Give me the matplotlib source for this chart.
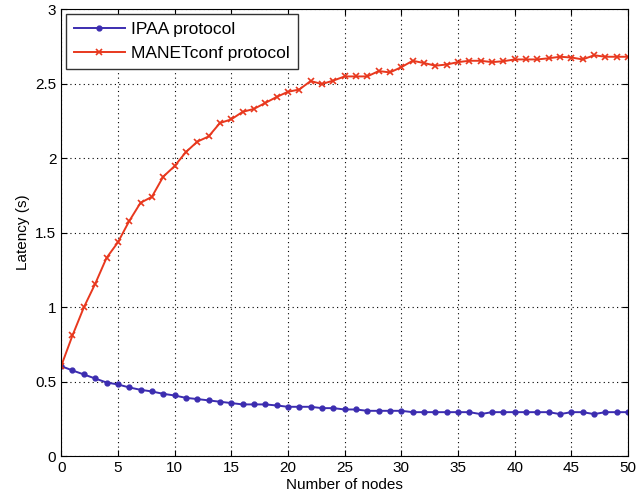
import numpy as np
import matplotlib.pyplot as plt

plt.rcParams['font.family'] = ['Liberation Sans', 'DejaVu Sans']

nodes = list(range(51))

ipaa = [0.604, 0.575, 0.548, 0.521, 0.494, 0.481, 0.461, 0.445, 0.434, 0.418,
        0.407, 0.391, 0.383, 0.374, 0.365, 0.356, 0.347, 0.347, 0.347, 0.340,
        0.331, 0.331, 0.331, 0.322, 0.322, 0.313, 0.313, 0.304, 0.304, 0.304,
        0.304, 0.295, 0.295, 0.295, 0.295, 0.295, 0.295, 0.282, 0.295, 0.295,
        0.295, 0.295, 0.295, 0.295, 0.282, 0.295, 0.295, 0.282, 0.295, 0.295,
        0.295]

manetconf = [0.604, 0.81, 0.998, 1.156, 1.33, 1.434, 1.577, 1.70, 1.74, 1.875,
             1.946, 2.04, 2.11, 2.145, 2.235, 2.26, 2.31, 2.33, 2.37, 2.41,
             2.445, 2.46, 2.517, 2.497, 2.52, 2.548, 2.548, 2.548, 2.584, 2.575,
             2.61, 2.653, 2.638, 2.62, 2.628, 2.644, 2.653, 2.653, 2.644, 2.65,
             2.662, 2.662, 2.662, 2.67, 2.68, 2.675, 2.662, 2.69, 2.68, 2.68,
             2.68]

fig = plt.figure(figsize=(6.37, 5.04), dpi=100)
ax = fig.add_axes([0.096, 0.095, 0.89, 0.887])

ax.plot(nodes, ipaa, color='#3c2db0', marker='o', markersize=3.5, linewidth=1.4,
        label='IPAA protocol')
ax.plot(nodes, manetconf, color='#e8381e', marker='x', markersize=5, markeredgewidth=1.2,
        linewidth=1.4, label='MANETconf protocol')

ax.set_xlim(0, 50)
ax.set_ylim(0, 3)
ax.set_xticks(np.arange(0, 51, 5))
ax.set_yticks(np.arange(0, 3.01, 0.5))
ax.set_yticklabels(['0', '0.5', '1', '1.5', '2', '2.5', '3'])
ax.tick_params(direction='in', top=True, right=True, labelsize=11, length=4)
ax.grid(True, color='black', linestyle=(0, (1, 3)), linewidth=0.8)

ax.set_xlabel('Number of nodes', fontsize=11, labelpad=2)
ax.set_ylabel('Latency (s)', fontsize=11)

leg = ax.legend(loc='upper left', fontsize=12.5, fancybox=False, framealpha=1,
                edgecolor='#333333', borderaxespad=0.3, numpoints=1,
                handlelength=2.9, handletextpad=0.4, labelspacing=0.5,
                borderpad=0.45)
leg.get_frame().set_linewidth(1.0)

fig.savefig('out.png', dpi=100)
